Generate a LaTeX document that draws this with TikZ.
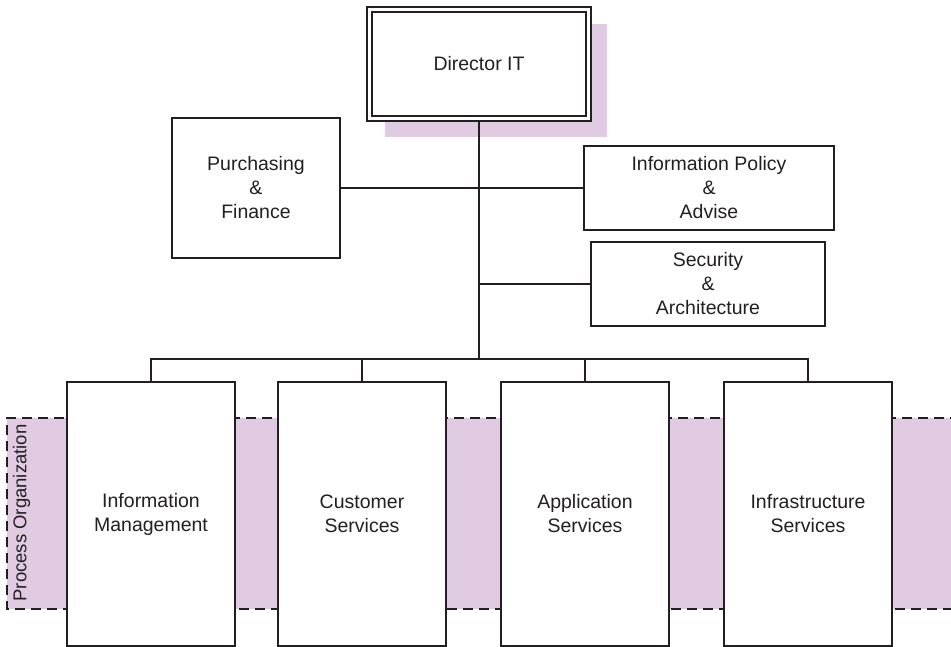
\documentclass[tikz,border=0pt]{standalone}
\usepackage{fontspec}
\setmainfont{Liberation Sans}
\definecolor{lilac}{RGB}{225,203,226}
\definecolor{ink}{RGB}{35,31,32}
\begin{document}
\begin{tikzpicture}[x=1pt,y=-1pt,
  line width=2pt,
  every node/.style={font=\fontsize{19.5}{24}\selectfont, text=ink},
  unit/.style={draw=ink, fill=white, align=center, inner sep=0pt, line width=2pt},
  link/.style={draw=ink, line width=2pt},
  band/.style={draw=ink, dashed, dash pattern=on 10pt off 6pt, line width=2pt}]
\useasboundingbox (0,0) rectangle (951,647);

% process organization band
\fill[lilac] (7,418) rectangle (960,609);
\draw[band] (960,418) -- (7,418) -- (7,609) -- (960,609);
\node[rotate=90, font=\fontsize{18.5}{22}\selectfont] (proc) at (21.5,513) {Process Organization};

% shadow behind the director
\fill[lilac] (385,24) rectangle (607,137);

% director box with double frame
\node[unit, minimum width=224pt, minimum height=114pt] (dir) at (479,64) {};
\draw[ink, line width=2pt] (372,12) rectangle (586,116);
\node at (dir.center) {Director IT};

% staff units
\node[unit, minimum width=168pt, minimum height=140pt] (pf) at (256,188) {Purchasing\\\&\\Finance};
\node[unit, minimum width=250pt, minimum height=84pt] (ipa) at (709,188) {Information Policy\\\&\\Advise};
\node[unit, minimum width=234pt, minimum height=84pt] (sa) at (708,284) {Security\\\&\\Architecture};

% line units
\node[unit, minimum width=168pt, minimum height=264pt] (im) at (151,514) {Information\\Management};
\node[unit, minimum width=168pt, minimum height=264pt] (cs) at (362,514) {Customer\\Services};
\node[unit, minimum width=168pt, minimum height=264pt] (as) at (585,514) {Application\\Services};
\node[unit, minimum width=168pt, minimum height=264pt] (is) at (808,514) {Infrastructure\\Services};

% connectors
\coordinate (bus) at (479,359);
\draw[link] (dir.south) -- (bus);
\draw[link] (pf.east) -- (ipa.west);
\draw[link] (479,284) -- (sa.west);
\draw[link] (im.north) -- (151,359) -- (808,359) -- (is.north);
\draw[link] (cs.north) -- (362,359);
\draw[link] (as.north) -- (585,359);
\end{tikzpicture}
\end{document}
